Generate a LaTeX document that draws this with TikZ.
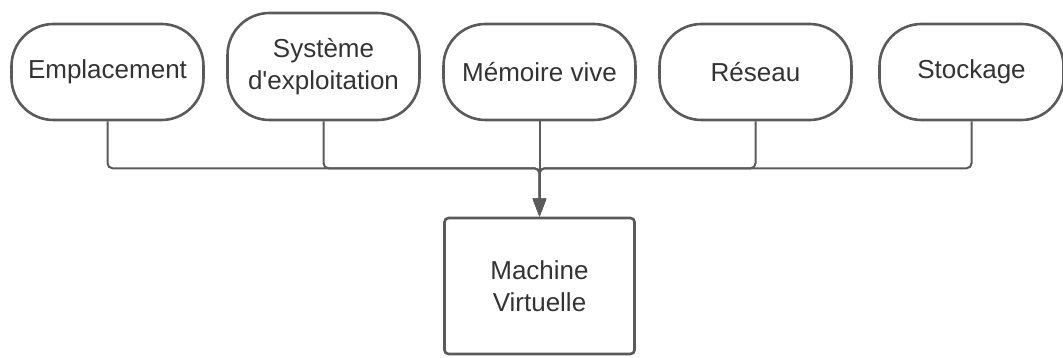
\documentclass[tikz,border=0pt]{standalone}
\usepackage{fontspec}
\setmainfont{Liberation Sans}
\usetikzlibrary{arrows.meta, positioning}
\definecolor{colorLine}{HTML}{5A5A5A}
\definecolor{colorText}{HTML}{333333}
\tikzset{
  part/.style={draw=colorLine, line width=2.6pt, rounded corners=42pt, minimum width=192pt, minimum height=96pt, align=center, text=colorText, font=\fontsize{26}{32}\selectfont},
  machine/.style={draw=colorLine, line width=2.6pt, rounded corners=4pt, minimum width=190pt, minimum height=136pt, align=center, text=colorText, font=\fontsize{26}{32}\selectfont},
  link/.style={draw=colorLine, line width=2pt, rounded corners=5pt}
}

\begin{document}
\begin{tikzpicture}[x=1pt, y=1pt, >={Triangle[length=18pt,width=13pt]}, node distance=216pt]
\useasboundingbox (0,0) rectangle (1063,-358);
\node[part] (emp) at (107.5,-72) {Emplacement};
\node[part, right of=emp, yshift=5.5pt, minimum height=107pt] (sys) {Système\\d\textquotesingle exploitation};
\node[part, right of=sys, yshift=-5.5pt] (mem) {Mémoire vive};
\node[part, right of=mem] (res) {Réseau};
\node[part, right of=res, minimum width=184pt] (sto) {Stockage};
\node[machine, below of=mem, node distance=214pt] (vm) {Machine\\Virtuelle};
\coordinate (bus) at ([yshift=-47pt]mem.south);
% bus towards the virtual machine
\foreach \n in {emp, sys, res, sto}
  \draw[link, ->] (\n.south) |- (bus) -- (vm.north);
\draw[link, ->] (mem.south) -- (vm.north);
\end{tikzpicture}
\end{document}
